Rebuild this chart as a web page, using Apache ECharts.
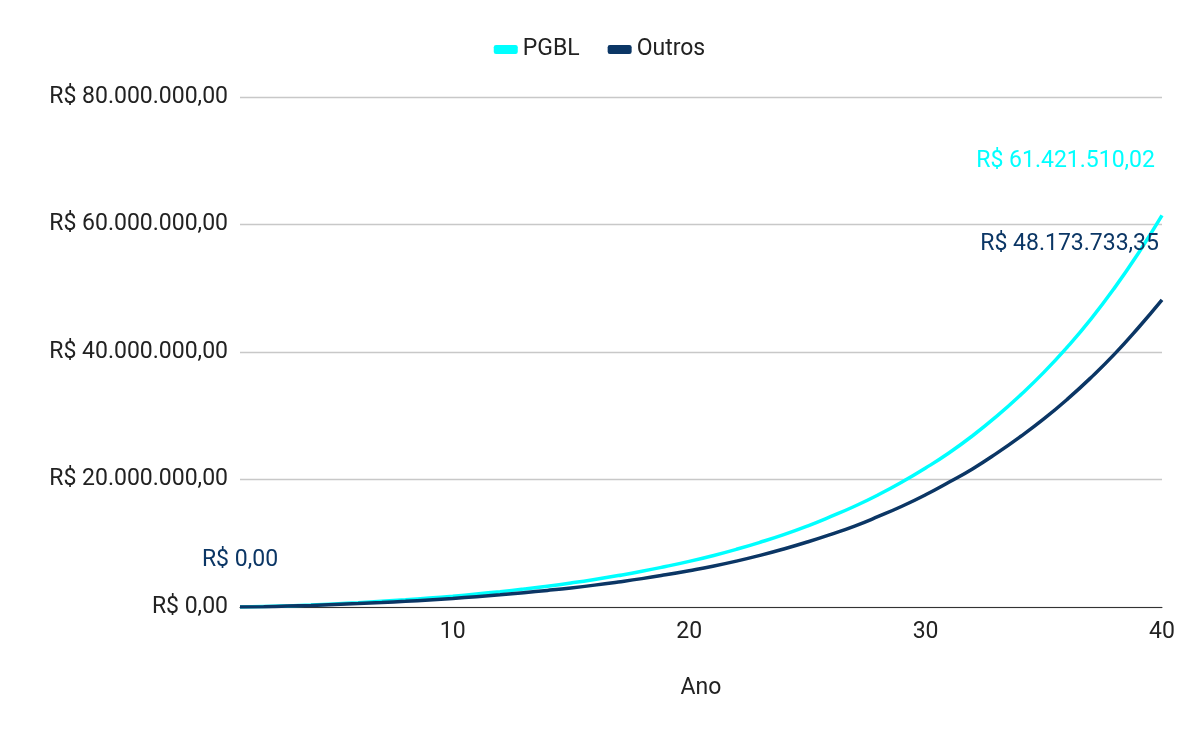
<!DOCTYPE html>
<html><head><meta charset="utf-8">
<script src="https://cdn.jsdelivr.net/npm/echarts@6/dist/echarts.min.js"></script>
<style>html,body{margin:0;padding:0;background:#fff}#c{width:1199px;height:742px}</style>
</head><body><div id="c"></div>
<script>
const years = Array.from({length:40},(_,i)=>i+1);
const xTicks = [10,20,30,40];
const pgbl = [0,0.06,0.17,0.31,0.48,0.67,0.89,1.13,1.4,1.7,2.04,2.41,2.82,3.27,3.77,4.32,4.93,5.6,6.35,7.15,8.05,9.05,10.15,11.35,12.7,14.2,15.8,17.6,19.6,21.8,24.2,26.9,29.9,33.2,36.8,40.8,45.2,50.1,55.5,61.42151002];
const outros = [0,0.05,0.14,0.25,0.38,0.53,0.7,0.89,1.11,1.35,1.62,1.91,2.24,2.6,2.99,3.43,3.92,4.45,5.05,5.7,6.4,7.2,8.1,9.1,10.2,11.4,12.7,14.2,15.8,17.6,19.6,21.7,24.1,26.7,29.5,32.6,36.0,39.7,43.8,48.17373335];
const fmt = v => 'R$ ' + v.toLocaleString('pt-BR',{minimumFractionDigits:2,maximumFractionDigits:2});
const C1='#00ffff', C2='#0b3665';
function mk(arr, color, labels){
  return years.map((y,i)=>{
    const d={value:[y,arr[i]*1e6]};
    if(labels[i]) d.label=Object.assign({show:true,color,fontSize:23,fontFamily:'Roboto',formatter:p=>fmt(p.value[1])},labels[i]);
    return d;
  });
}
const chart = echarts.init(document.getElementById('c'));
chart.setOption({
  animation:false,
  textStyle:{fontFamily:'Roboto'},
  legend:{top:33,itemWidth:24,itemHeight:9,itemGap:28,icon:'roundRect',textStyle:{fontSize:23,color:'#222'},data:['PGBL','Outros']},
  grid:{left:240,right:37,top:97,bottom:135},
  xAxis:{type:'value',min:1,max:40,name:'Ano',nameLocation:'middle',nameGap:70,
    nameTextStyle:{fontSize:23,color:'#222'},
    axisLabel:{fontSize:23,color:'#222',margin:14,customValues:xTicks},
    axisLine:{lineStyle:{color:'#333'}},axisTick:{show:false},splitLine:{show:false}},
  yAxis:{type:'value',min:0,max:80000000,interval:20000000,
    axisLabel:{fontSize:23,color:'#222',margin:12,formatter:v=>fmt(v)},
    axisLine:{show:false},axisTick:{show:false},splitLine:{lineStyle:{color:'#c8c8c8',width:1.3}}},
  series:[
    {name:'PGBL',type:'line',color:C1,symbol:'circle',symbolSize:0.1,showSymbol:true,lineStyle:{width:3.5,color:C1},smooth:true,
     data:mk(pgbl,C1,{39:{position:'left',offset:[-2,-54]}})},
    {name:'Outros',type:'line',color:C2,symbol:'circle',symbolSize:0.1,showSymbol:true,lineStyle:{width:3.5,color:C2},smooth:true,
     data:mk(outros,C2,{0:{position:'top',offset:[0,-30]},39:{position:'left',offset:[2,-56]}})}
  ]
});
</script></body></html>
